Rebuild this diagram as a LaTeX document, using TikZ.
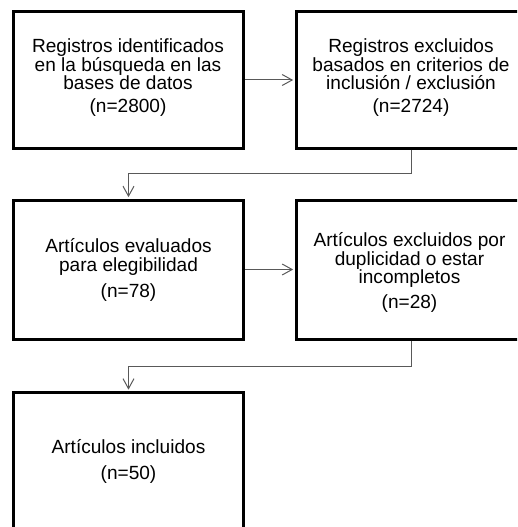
\documentclass[tikz,border=0pt]{standalone}
\usepackage{fontspec}
\setmainfont{Liberation Sans}
\usetikzlibrary{arrows.meta,calc}
\begin{document}
\begin{tikzpicture}[x=0.75pt,y=-0.75pt,
  box/.style={draw=black, line width=2.25pt, minimum width=172.5pt, inner sep=0pt},
  txt/.style={align=center, font=\fontsize{14.3}{14}\selectfont, inner sep=0pt},
  conn/.style={draw=black!65, line width=0.75pt, -{Straight Barb[length=7.5pt,width=8.25pt]}, shorten >=1pt}]
\useasboundingbox (0,0) rectangle (517,527);
\clip (0,0) rectangle (517,527);
% boxes
\node[box, minimum height=102.75pt] (b1) at (128.5,80) {};
\node[box, minimum height=102.75pt] (b2) at (411,80) {};
\node[box, minimum height=104.25pt] (b3) at (128.5,269.5) {};
\node[box, minimum height=104.25pt] (b4) at (411,269.5) {};
\node[box, minimum height=103.5pt] (b5) at (128.5,461.5) {};
% texts
\node[txt] (t1) at (128,77.6) {Registros identificados\\en la búsqueda en las\\bases de datos\\[3.2pt](n=2800)};
\node[txt] (t2) at (411,77.6) {Registros excluidos\\basados en criterios de\\inclusión / exclusión\\[3.2pt](n=2724)};
\node[txt] (t3) at (128.5,270.25) {Artículos evaluados\\para elegibilidad\\[5.5pt](n=78)};
\node[txt] (t4) at (409.5,272.45) {Artículos excluidos por\\duplicidad o estar\\incompletos\\[4.7pt](n=28)};
\node[txt] (t5) at (128.5,461.6) {Artículos incluidos\\[6pt](n=50)};
% connectors
\draw[conn] (b1.east) -- (b2.west);
\draw[conn] (b2.south) -- ++(0,24) -| (b3.north);
\draw[conn] (b3.east) -- (b4.west);
\draw[conn] (b4.south) -- ++(0,25.5) -| (b5.north);
\end{tikzpicture}
\end{document}
